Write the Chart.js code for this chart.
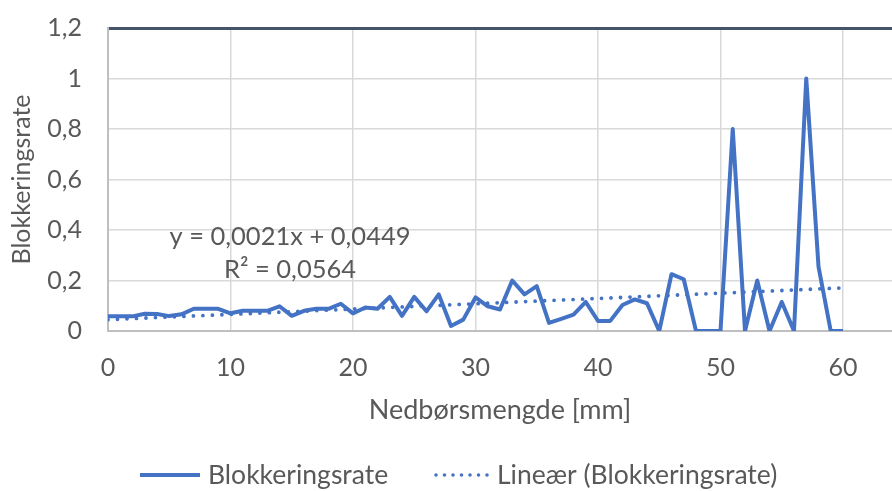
<!DOCTYPE html>
<html>
<head>
<meta charset="utf-8">
<script src="https://cdn.jsdelivr.net/npm/chart.js@4.4.1/dist/chart.umd.min.js"></script>
<style>
  html, body { margin: 0; padding: 0; background: #ffffff; }
  #wrap { width: 892px; height: 491px; }
</style>
</head>
<body>
<div id="wrap"><canvas id="chart" width="892" height="491"></canvas></div>
<script>
// Precipitation amount per day [mm] and the blocking rate observed at that amount
const precipitation = [
  0, 1, 2, 3, 4, 5, 6, 7, 8, 9,
  10, 11, 12, 13, 14, 15, 16, 17, 18, 19,
  20, 21, 22, 23, 24, 25, 26, 27, 28, 29,
  30, 31, 32, 33, 34, 35, 36, 37, 38, 39,
  40, 41, 42, 43, 44, 45, 46, 47, 48, 49,
  50, 51, 52, 53, 54, 55, 56, 57, 58, 59,
  60
];
const blockingRate = [
  0.058, 0.058, 0.058, 0.068, 0.067, 0.059, 0.066, 0.088, 0.088, 0.088,
  0.070, 0.080, 0.080, 0.080, 0.098, 0.060, 0.080, 0.088, 0.088, 0.108,
  0.070, 0.093, 0.088, 0.135, 0.060, 0.135, 0.078, 0.145, 0.020, 0.045,
  0.133, 0.098, 0.085, 0.200, 0.145, 0.178, 0.032, 0.048, 0.065, 0.115,
  0.040, 0.040, 0.103, 0.125, 0.110, 0.000, 0.225, 0.205, 0.000, 0.000,
  0.000, 0.800, 0.000, 0.200, 0.000, 0.115, 0.000, 1.000, 0.255, 0.000,
  0.000
];

// Linear trendline as stated by its equation label
const trendSlope = 0.0021;
const trendIntercept = 0.0449;
const trendRSquared = 0.0564;
const trendRange = [0, 60];

const xTickValues = [0, 10, 20, 30, 40, 50, 60];
const yTickValues = [0, 0.2, 0.4, 0.6, 0.8, 1, 1.2];

const seriesName = 'Blokkeringsrate';
const trendName = 'Lineær (Blokkeringsrate)';
const xTitle = 'Nedbørsmengde [mm]';
const yTitle = 'Blokkeringsrate';

const FONT = 'Lato, "Noto Sans", sans-serif';
const TEXT = '#595959';
const BLUE = '#4472C4';

const comma = (v, d) => v.toFixed(d).replace('.', ',');
const fmtTick = v => String(Number(v.toFixed(1))).replace('.', ',');

const seriesPoints = precipitation.map((x, i) => ({ x, y: blockingRate[i] }));
const trendPoints = trendRange.map(x => ({ x, y: trendIntercept + trendSlope * x }));

// Trendline equation text and bottom legend
const annotations = {
  id: 'annotations',
  afterDatasetsDraw(chart) {
    const ctx = chart.ctx;
    ctx.save();
    ctx.fillStyle = TEXT;
    ctx.font = `25.5px ${FONT}`;
    ctx.textAlign = 'center';
    ctx.textBaseline = 'middle';
    const sign = trendIntercept >= 0 ? '+' : '−';
    ctx.fillText(`y = ${comma(trendSlope, 4)}x ${sign} ${comma(Math.abs(trendIntercept), 4)}`, 290, 237);
    ctx.fillText(`R² = ${comma(trendRSquared, 4)}`, 290, 270);
    ctx.restore();
  },
  afterDraw(chart) {
    const ctx = chart.ctx;
    const y = 475;
    ctx.save();
    ctx.font = `26.5px ${FONT}`;
    ctx.fillStyle = TEXT;
    ctx.textBaseline = 'middle';
    ctx.textAlign = 'left';
    // solid sample
    ctx.strokeStyle = BLUE;
    ctx.lineWidth = 4;
    ctx.lineCap = 'butt';
    ctx.beginPath();
    ctx.moveTo(140, y);
    ctx.lineTo(200, y);
    ctx.stroke();
    ctx.fillText(seriesName, 208, y);
    // dotted sample
    ctx.setLineDash([0, 8.5]);
    ctx.lineCap = 'round';
    ctx.lineWidth = 3.6;
    ctx.beginPath();
    ctx.moveTo(436, y);
    ctx.lineTo(492, y);
    ctx.stroke();
    ctx.setLineDash([]);
    ctx.fillText(trendName, 497, y);
    ctx.restore();
  }
};

new Chart(document.getElementById('chart'), {
  type: 'scatter',
  data: {
    datasets: [
      {
        label: seriesName,
        data: seriesPoints,
        showLine: true,
        borderColor: BLUE,
        backgroundColor: BLUE,
        borderWidth: 4,
        borderJoinStyle: 'round',
        pointRadius: 0,
        tension: 0,
        order: 1
      },
      {
        label: trendName,
        data: trendPoints,
        showLine: true,
        borderColor: BLUE,
        backgroundColor: BLUE,
        borderWidth: 3.8,
        borderDash: [0, 9.5],
        borderCapStyle: 'round',
        pointRadius: 0,
        order: 0
      }
    ]
  },
  options: {
    responsive: false,
    animation: false,
    devicePixelRatio: 1,
    layout: { padding: { top: 28, right: 0, bottom: 55, left: 0 } },
    plugins: {
      legend: { display: false },
      tooltip: { enabled: false }
    },
    scales: {
      x: {
        type: 'linear',
        min: 0,
        max: 64,
        afterFit(scale) { scale.height = 105; },
        afterBuildTicks(scale) { scale.ticks = xTickValues.map(value => ({ value })); },
        ticks: {
          includeBounds: false,
          color: TEXT,
          font: { family: FONT, size: 25 },
          padding: 22,
          maxRotation: 0,
          callback: v => String(v)
        },
        grid: { color: '#d9d9d9', lineWidth: 1.5, drawTicks: false },
        border: { color: '#bfbfbf', width: 2 },
        title: {
          display: true,
          text: xTitle,
          color: TEXT,
          font: { family: FONT, size: 27 },
          padding: { top: 0, bottom: 10 }
        }
      },
      y: {
        min: 0,
        max: 1.2,
        afterFit(scale) { scale.width = 108; },
        afterBuildTicks(scale) { scale.ticks = yTickValues.map(value => ({ value })); },
        ticks: {
          color: TEXT,
          font: { family: FONT, size: 25 },
          padding: 4,
          callback: v => fmtTick(v)
        },
        grid: {
          color: c => (c.tick && Math.abs(c.tick.value - 1.2) < 1e-6) ? '#44546A' : '#d9d9d9',
          lineWidth: c => (c.tick && Math.abs(c.tick.value - 1.2) < 1e-6) ? 3 : 1.5,
          drawTicks: true,
          tickLength: 22,
          tickColor: 'rgba(0,0,0,0)'
        },
        border: { color: '#bfbfbf', width: 2 },
        title: {
          display: true,
          text: yTitle,
          color: TEXT,
          font: { family: FONT, size: 25 },
          padding: { top: 7, bottom: 0 }
        }
      }
    }
  },
  plugins: [annotations]
});
</script>
</body>
</html>
